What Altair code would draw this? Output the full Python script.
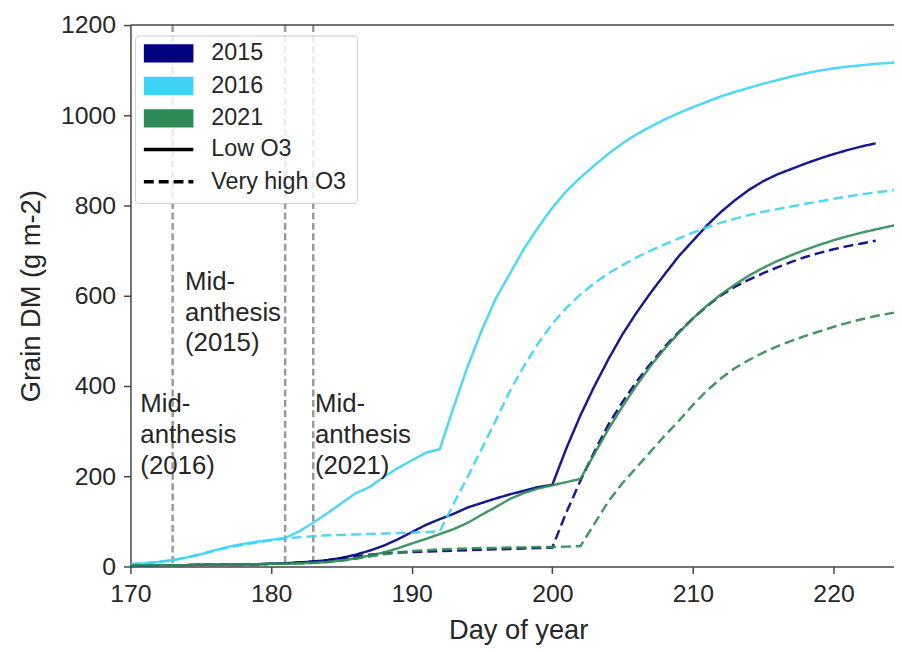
import altair as alt
import pandas as pd

FONT = "Liberation Sans"
TXT = "#262626"

days_full = list(range(170, 226))
days_2015 = list(range(170, 224))

g2015_low = [2, 2, 3, 3, 3, 4, 4, 4, 5, 5, 6, 7, 9, 11, 14, 19, 26, 35, 46, 60,
             76, 92, 105, 117, 131, 141, 151, 160, 168, 176, 181, 262, 335, 400, 460, 515, 563, 607, 648, 688,
             722, 756, 786, 812, 835, 854, 869, 881, 893, 904, 914, 923, 931, 938]
g2015_high = [2, 2, 3, 3, 3, 4, 4, 4, 5, 5, 6, 7, 9, 11, 14, 18, 22, 26, 29, 31,
              32, 33, 34, 35, 36, 37, 38, 39, 40, 41, 42, 120, 190, 255, 315, 365, 410, 450, 487, 520,
              550, 577, 601, 620, 636, 650, 663, 675, 686, 695, 703, 710, 716, 722]
g2016_low = [5, 7, 10, 14, 20, 27, 36, 44, 50, 55, 59, 63, 78, 97, 118, 140, 162, 176, 198, 218,
             235, 252, 260, 355, 445, 525, 595, 650, 705, 752, 795, 832, 862, 889, 915, 938, 958, 975, 991, 1005,
             1018, 1030, 1042, 1052, 1061, 1070, 1078, 1086, 1093, 1099, 1104, 1108, 1111, 1114, 1116, 1118]
g2016_high = [5, 7, 10, 14, 20, 27, 35, 42, 48, 53, 58, 62, 65, 67, 69, 70, 71, 72, 73, 74,
              75, 76, 78, 140, 200, 262, 325, 390, 445, 495, 538, 573, 603, 628, 650, 668, 685, 700, 714, 727,
              740, 752, 762, 771, 779, 786, 792, 798, 804, 809, 815, 820, 825, 829, 833, 836]
g2021_low = [2, 2, 3, 3, 3, 4, 4, 4, 5, 5, 6, 6, 7, 8, 10, 13, 18, 24, 31, 40,
             51, 61, 72, 83, 97, 115, 132, 150, 163, 173, 180, 187, 194, 250, 305, 355, 402, 445, 483, 518,
             550, 578, 603, 625, 645, 662, 677, 690, 702, 713, 723, 732, 740, 747, 754, 760]
g2021_high = [2, 2, 3, 3, 3, 4, 4, 4, 5, 5, 6, 6, 7, 8, 10, 13, 17, 22, 27, 31,
              34, 36, 38, 39, 40, 41, 41, 42, 42, 43, 43, 44, 45, 95, 145, 185, 220, 255, 290, 323,
              358, 390, 417, 440, 458, 474, 488, 500, 511, 521, 531, 540, 548, 555, 561, 566]

years = ["2015", "2016", "2021"]
year_colors = ["#000080", "#3dd3f5", "#2e8b57"]
ozone_levels = ["Low O3", "Very high O3"]
ozone_dashes = [[1, 0], [10, 5]]

anthesis_days = [173, 181, 183]
anth_label_x = [170.7, 173.88, 183.12]
anth_label_y = [342, 613, 342]
anth_label_text = ["Mid-\nanthesis\n(2016)", "Mid-\nanthesis\n(2015)", "Mid-\nanthesis\n(2021)"]

series = [
    ("2015", "Low O3", days_2015, g2015_low),
    ("2015", "Very high O3", days_2015, g2015_high),
    ("2016", "Low O3", days_full, g2016_low),
    ("2016", "Very high O3", days_full, g2016_high),
    ("2021", "Low O3", days_full, g2021_low),
    ("2021", "Very high O3", days_full, g2021_high),
]
rows = []
for yr, oz, ds, vs in series:
    for d, v in zip(ds, vs):
        rows.append({"day": d, "value": v, "year": yr, "ozone": oz, "series": yr + oz})
df = pd.DataFrame(rows)

W, H = 770, 546
xscale = alt.Scale(domain=[170, 224.3], nice=False, zero=False)
yscale = alt.Scale(domain=[0, 1200], nice=False)

LINE_PATH = "M-2.5,0L2.5,0"
# stacked overlapping strokes that together look like a filled swatch
SWATCH_PATH = ("M-2.5,-0.75L2.5,-0.75M-2.5,-0.45L2.5,-0.45M-2.5,-0.15L2.5,-0.15"
               "M-2.5,0.15L2.5,0.15M-2.5,0.45L2.5,0.45M-2.5,0.75L2.5,0.75")
LEG_FONT = 23.5

rules = alt.Chart(pd.DataFrame({"day": anthesis_days})).mark_rule(
    color="#999999", strokeWidth=2.5, strokeDash=[7, 3.5]
).encode(x=alt.X("day:Q", scale=xscale))

lines = alt.Chart(df).mark_line(strokeWidth=2.5, opacity=0.9, clip=True).encode(
    x=alt.X("day:Q", scale=xscale,
            axis=alt.Axis(values=[170, 180, 190, 200, 210, 220], title="Day of year", labelFlush=False,
                          titleX=391, titleY=73, titleBaseline="alphabetic", titleAnchor="middle")),
    y=alt.Y("value:Q", scale=yscale,
            axis=alt.Axis(values=[0, 200, 400, 600, 800, 1000, 1200], format="d", labelFlush=False,
                          title="Grain DM (g m-2)",
                          titleX=-100, titleY=273, titleAngle=-90, titleAlign="center",
                          titleBaseline="middle")),
    color=alt.Color("year:N", scale=alt.Scale(domain=years, range=year_colors),
                    legend=alt.Legend(orient="none", legendX=26.5, legendY=16.5, title=None,
                                      symbolType=SWATCH_PATH, symbolSize=400, symbolStrokeWidth=3.5,
                                      symbolOpacity=1,
                                      labelFontSize=LEG_FONT, labelOffset=31, rowPadding=2.8,
                                      padding=0, labelFont=FONT, labelColor=TXT)),
    strokeDash=alt.StrokeDash("ozone:N", scale=alt.Scale(domain=ozone_levels, range=ozone_dashes),
                              legend=alt.Legend(orient="none", legendX=26.5, legendY=113.5, title=None,
                                                symbolType=LINE_PATH, symbolSize=400,
                                                symbolStrokeWidth=3.5, symbolStrokeColor="black",
                                                symbolOpacity=1,
                                                labelFontSize=LEG_FONT, labelOffset=31, rowPadding=8.5,
                                                padding=0, labelFont=FONT, labelColor=TXT)),
    detail="series:N",
    order="day:Q",
)

legend_bg = alt.Chart(pd.DataFrame({"a": [0]})).mark_rect(
    fill="white", fillOpacity=0.8, stroke="#cccccc", strokeWidth=1, cornerRadius=4
).encode(x=alt.value(5), x2=alt.value(229), y=alt.value(11), y2=alt.value(180))

top_spine = alt.Chart(pd.DataFrame({"a": [0]})).mark_rule(color="#444444", strokeWidth=1.5).encode(
    x=alt.value(0), x2=alt.value(W), y=alt.value(0))

anno = alt.Chart(pd.DataFrame({"day": anth_label_x, "value": anth_label_y, "label": anth_label_text})).mark_text(
    align="left", baseline="alphabetic", fontSize=26, lineHeight=31, lineBreak="\n", font=FONT, color=TXT
).encode(x=alt.X("day:Q", scale=xscale), y=alt.Y("value:Q", scale=yscale), text="label:N")

chart = alt.layer(rules, lines, legend_bg, anno, top_spine).properties(
    width=W, height=H, autosize="none",
    padding={"left": 123.5, "top": 14.5, "right": 0, "bottom": 80},
).configure_view(stroke=None).configure_axis(
    grid=False, labelFont=FONT, titleFont=FONT, labelFontSize=25, titleFontSize=27.5,
    labelColor=TXT, titleColor=TXT, titleFontWeight="normal",
    domainColor="#444444", domainWidth=1.5, tickColor="#444444", tickWidth=1.5, tickSize=7,
    labelPadding=8,
)

chart.save("out.html", embed_options={"renderer": "svg", "actions": False})
